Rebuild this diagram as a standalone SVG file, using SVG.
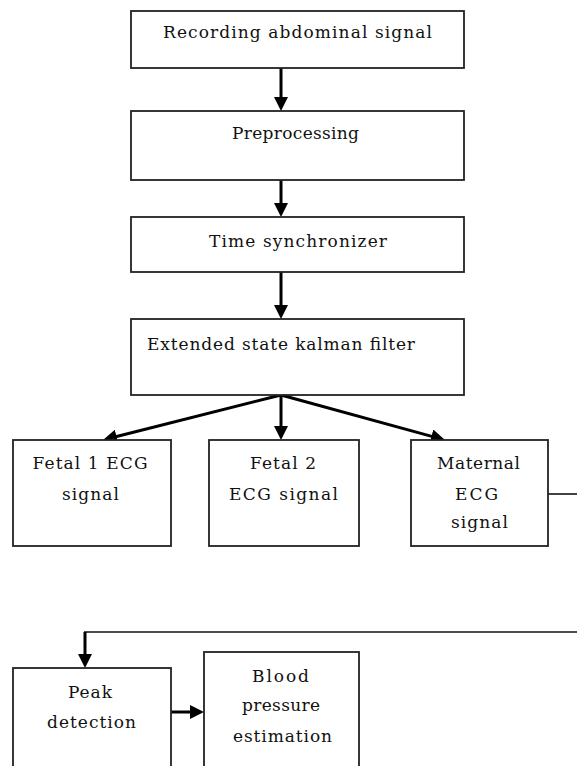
<svg xmlns="http://www.w3.org/2000/svg" width="577" height="766" viewBox="0 0 577 766">
<style>
.box{fill:#fff;stroke:#222;stroke-width:1.8}
.t{font-family:"DejaVu Serif","Liberation Serif",serif;font-size:17px;fill:#111;text-anchor:middle}
.c{fill:none;stroke:#000;stroke-width:3}
.thin{fill:none;stroke:#111;stroke-width:1.6}
</style>
<defs>
<marker id="ah" markerUnits="userSpaceOnUse" markerWidth="14" markerHeight="14" refX="5" refY="7" orient="auto" viewBox="0 0 14 14">
<path d="M0,0 L14,7 L0,14 z" fill="#000"/>
</marker>
</defs>
<rect width="577" height="766" fill="#fff"/>
<g id="connectors">
<line class="c" x1="281" y1="68" x2="281" y2="102" marker-end="url(#ah)"/>
<line class="c" x1="281" y1="180" x2="281" y2="208" marker-end="url(#ah)"/>
<line class="c" x1="281" y1="272" x2="281" y2="310" marker-end="url(#ah)"/>
<line class="c" x1="281" y1="395" x2="111.7" y2="437.8" marker-end="url(#ah)"/>
<line class="c" x1="281" y1="395" x2="281" y2="431" marker-end="url(#ah)"/>
<line class="c" x1="281" y1="395" x2="436.3" y2="437.6" marker-end="url(#ah)"/>
<line class="thin" x1="548" y1="494" x2="577" y2="494"/>
<line class="thin" x1="577" y1="632" x2="84" y2="632"/>
<line class="c" x1="85" y1="632" x2="85" y2="659" marker-end="url(#ah)"/>
<line class="c" x1="171" y1="712" x2="195" y2="712" marker-end="url(#ah)"/>
</g>
<g id="n1"><rect class="box" x="131" y="11" width="333" height="57"/><text class="t" x="297.5" y="38" textLength="269" lengthAdjust="spacing">Recording abdominal signal</text></g>
<g id="n2"><rect class="box" x="131" y="111" width="333" height="69"/><text class="t" x="295.5" y="139" textLength="127" lengthAdjust="spacing">Preprocessing</text></g>
<g id="n3"><rect class="box" x="131" y="217" width="333" height="55"/><text class="t" x="298" y="247" textLength="178" lengthAdjust="spacing">Time synchronizer</text></g>
<g id="n4"><rect class="box" x="131" y="319" width="333" height="76"/><text class="t" x="281" y="350" textLength="268" lengthAdjust="spacing">Extended state kalman filter</text></g>
<g id="n5"><rect class="box" x="13" y="440" width="158" height="106"/><text class="t" x="90" y="469" textLength="115" lengthAdjust="spacing">Fetal 1 ECG</text><text class="t" x="90.5" y="500" textLength="57" lengthAdjust="spacing">signal</text></g>
<g id="n6"><rect class="box" x="209" y="440" width="150" height="106"/><text class="t" x="283" y="469" textLength="66" lengthAdjust="spacing">Fetal 2</text><text class="t" x="283.5" y="500" textLength="109" lengthAdjust="spacing">ECG signal</text></g>
<g id="n7"><rect class="box" x="411" y="440" width="137" height="106"/><text class="t" x="478.5" y="469" textLength="83" lengthAdjust="spacing">Maternal</text><text class="t" x="476.5" y="500" textLength="43" lengthAdjust="spacing">ECG</text><text class="t" x="479.5" y="528" textLength="57" lengthAdjust="spacing">signal</text></g>
<g id="n8"><rect class="box" x="13" y="668" width="158" height="120"/><text class="t" x="90" y="698" textLength="44" lengthAdjust="spacing">Peak</text><text class="t" x="91.5" y="728" textLength="89" lengthAdjust="spacing">detection</text></g>
<g id="n9"><rect class="box" x="204" y="652" width="155" height="136"/><text class="t" x="280.5" y="682" textLength="57" lengthAdjust="spacing">Blood</text><text class="t" x="281" y="711" textLength="78" lengthAdjust="spacing">pressure</text><text class="t" x="282.5" y="742" textLength="99" lengthAdjust="spacing">estimation</text></g>
</svg>
